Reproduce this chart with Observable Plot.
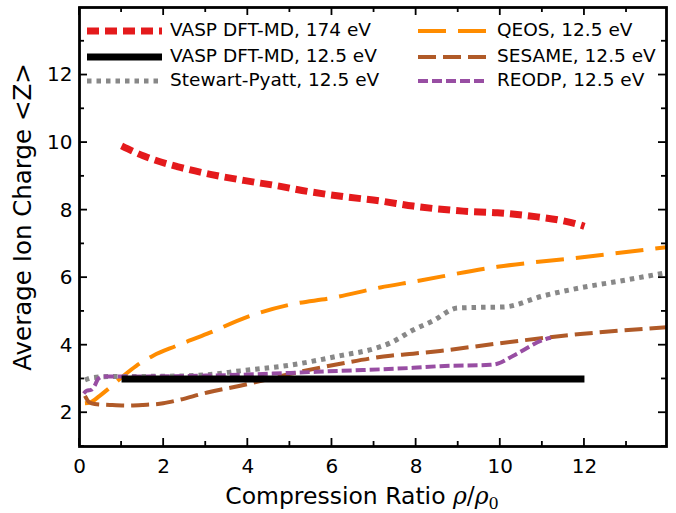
<!DOCTYPE html>
<html>
<head>
<meta charset="utf-8">
<script src="https://cdn.jsdelivr.net/npm/d3@7"></script>
<script src="https://cdn.jsdelivr.net/npm/@observablehq/plot@0.6"></script>
<style>
  html, body { margin: 0; padding: 0; background: white; }
</style>
</head>
<body>
<div id="chart"></div>
<script>
// ---- data ----
const xMajorTicks = [0, 2, 4, 6, 8, 10, 12];
const xMinorTicks = [1, 3, 5, 7, 9, 11, 13];
const yMajorTicks = [2, 4, 6, 8, 10, 12];
const yMinorTicks = [1, 3, 5, 7, 9, 11, 13];

const vasp174X = [1, 1.53, 2.32, 3.11, 3.9, 4.7, 5.49, 6.28, 7.15, 7.93, 9.12, 9.93, 10.88, 11.5, 11.9, 12];
const vasp174Y = [9.9, 9.6, 9.29, 9.06, 8.88, 8.72, 8.54, 8.4, 8.27, 8.12, 7.97, 7.92, 7.8, 7.68, 7.56, 7.52];

const vasp125X = [1, 12];
const vasp125Y = [3, 3];

const spX = [0.13, 0.3, 0.71, 2, 3, 3.82, 5.01, 6.2, 6.98, 7.39, 7.93, 8.4, 8.98, 9.5, 10.07, 11.02, 11.9, 12.85, 13.95];
const spY = [2.97, 3.04, 3.07, 3.08, 3.12, 3.24, 3.41, 3.69, 3.89, 4.07, 4.45, 4.72, 5.1, 5.12, 5.13, 5.46, 5.7, 5.9, 6.15];

const qeosX = [0.13, 0.24, 0.48, 0.68, 1.04, 1.35, 1.75, 2.3, 3.04, 3.99, 5.08, 5.96, 7.15, 7.93, 9.93, 11.9, 13.95];
const qeosY = [2.28, 2.3, 2.5, 2.7, 3.09, 3.39, 3.69, 3.98, 4.34, 4.84, 5.22, 5.39, 5.71, 5.88, 6.32, 6.6, 6.9];

const sesameX = [0.13, 0.24, 0.36, 0.72, 1.12, 1.51, 1.99, 2.3, 3.04, 3.82, 5.01, 6.2, 7.39, 7.93, 8.57, 9.93, 11.9, 13.95];
const sesameY = [2.5, 2.3, 2.26, 2.23, 2.21, 2.23, 2.28, 2.36, 2.6, 2.8, 3.15, 3.45, 3.69, 3.75, 3.83, 4.05, 4.33, 4.53];

const reodpX = [0.1, 0.17, 0.28, 0.36, 0.44, 0.56, 1, 2, 3, 4, 5, 6.2, 7.93, 8.57, 9.76, 9.93, 10.3, 11.1, 11.2];
const reodpY = [2.57, 2.65, 2.68, 2.8, 3.0, 3.07, 3.07, 3.08, 3.1, 3.13, 3.18, 3.24, 3.33, 3.38, 3.42, 3.45, 3.68, 4.19, 4.22];

// ---- series definitions ----
const zip = (xs, ys) => xs.map((x, i) => ({x, y: ys[i]}));
const series = [
  {label: "VASP DFT-MD, 174 eV", data: zip(vasp174X, vasp174Y), stroke: "#e41a1c", width: 7, dash: "12,6", col: 0, row: 0},
  {label: "VASP DFT-MD, 12.5 eV", data: zip(vasp125X, vasp125Y), stroke: "#000000", width: 7, dash: null, col: 0, row: 1},
  {label: "Stewart-Pyatt, 12.5 eV", data: zip(spX, spY), stroke: "#888888", width: 5, dash: "4.5,5", col: 0, row: 2},
  {label: "QEOS, 12.5 eV", data: zip(qeosX, qeosY), stroke: "#ff8c00", width: 4, dash: "28,12", col: 1, row: 0},
  {label: "SESAME, 12.5 eV", data: zip(sesameX, sesameY), stroke: "#b05a28", width: 4, dash: "18,7", col: 1, row: 1},
  {label: "REODP, 12.5 eV", data: zip(reodpX, reodpY), stroke: "#984ea3", width: 4, dash: "10,4", col: 1, row: 2}
];
const drawOrder = [3, 4, 2, 5, 1, 0];

const lineMarks = drawOrder.map(i => {
  const s = series[i];
  return Plot.line(s.data, {
    x: "x", y: "y", stroke: s.stroke, strokeWidth: s.width,
    strokeDasharray: s.dash ?? undefined, strokeLinecap: "butt", strokeLinejoin: "round", curve: "monotone-x"
  });
});

// frame geometry (pixels)
const W = 676, H = 513, mL = 79, mR = 10, mT = 7, mB = 67;

const chart = Plot.plot({
  width: W,
  height: H,
  marginLeft: mL,
  marginRight: mR,
  marginTop: mT,
  marginBottom: mB,
  x: {domain: [0, 13.95]},
  y: {domain: [1, 14]},
  style: {fontFamily: "DejaVu Sans", fontSize: "20px", color: "black", background: "white", overflow: "visible"},
  marks: [
    ...lineMarks,
    Plot.frame({stroke: "black", strokeWidth: 2.8}),
    Plot.axisX({ticks: xMajorTicks, tickSize: 0, tickPadding: 12, fontSize: 20, label: null, tickFormat: d3.format("d")}),
    Plot.axisY({ticks: yMajorTicks, tickSize: 0, tickPadding: 7, fontSize: 20, label: null, tickFormat: d3.format("d")})
  ]
});

document.getElementById("chart").appendChild(chart);

const svg = d3.select(chart);

// ---- inward ticks on all four sides, placed with the chart's own scales ----
const sx = chart.scale("x"), sy = chart.scale("y");
const fLeft = mL, fRight = W - mR, fTop = mT, fBottom = H - mB;
const tg = svg.append("g").attr("stroke", "black").attr("stroke-width", 1.8);
const majorLen = 8, minorLen = 5;
[[xMajorTicks, majorLen], [xMinorTicks, minorLen]].forEach(([ticks, len]) => {
  ticks.forEach(v => {
    const px = sx.apply(v);
    tg.append("line").attr("x1", px).attr("x2", px).attr("y1", fBottom).attr("y2", fBottom - len);
    tg.append("line").attr("x1", px).attr("x2", px).attr("y1", fTop).attr("y2", fTop + len);
  });
});
[[yMajorTicks, majorLen], [yMinorTicks, minorLen]].forEach(([ticks, len]) => {
  ticks.forEach(v => {
    const py = sy.apply(v);
    tg.append("line").attr("y1", py).attr("y2", py).attr("x1", fLeft).attr("x2", fLeft + len);
    tg.append("line").attr("y1", py).attr("y2", py).attr("x1", fRight).attr("x2", fRight - len);
  });
});

// ---- axis titles ----
svg.append("text")
  .attr("transform", "translate(24,217) rotate(-90)")
  .attr("text-anchor", "middle")
  .attr("dominant-baseline", "middle")
  .attr("font-family", "DejaVu Sans")
  .attr("font-size", 24.5)
  .attr("fill", "black")
  .text("Average Ion Charge <Z>");

const xt = svg.append("text")
  .attr("x", 362).attr("y", 504)
  .attr("text-anchor", "middle")
  .attr("font-family", "DejaVu Sans")
  .attr("font-size", 23.5)
  .attr("fill", "black");
xt.append("tspan").text("Compression Ratio ");
xt.append("tspan").attr("font-family", "DejaVu Serif").attr("font-style", "italic").text("ρ");
xt.append("tspan").attr("font-family", "DejaVu Serif").text("/");
xt.append("tspan").attr("font-family", "DejaVu Serif").attr("font-style", "italic").text("ρ");
xt.append("tspan").attr("font-family", "DejaVu Serif").attr("font-size", 16).attr("dy", 5).text("0");

// ---- legend ----
const colX = [[87, 162, 170], [418, 487, 497]];
const rowY = [31, 57, 81];
const lg = svg.append("g").attr("text-anchor", "start");
series.forEach(s => {
  const [x1, x2, tx] = colX[s.col];
  const y = rowY[s.row];
  lg.append("line")
    .attr("x1", x1).attr("x2", x2).attr("y1", y).attr("y2", y)
    .attr("stroke", s.stroke).attr("stroke-width", s.width)
    .attr("stroke-dasharray", s.dash);
  lg.append("text")
    .attr("x", tx).attr("y", y)
    .attr("text-anchor", "start")
    .attr("dominant-baseline", "middle")
    .attr("font-family", "DejaVu Sans")
    .attr("font-size", 18.5)
    .attr("fill", "black")
    .text(s.label);
});
</script>
</body>
</html>
